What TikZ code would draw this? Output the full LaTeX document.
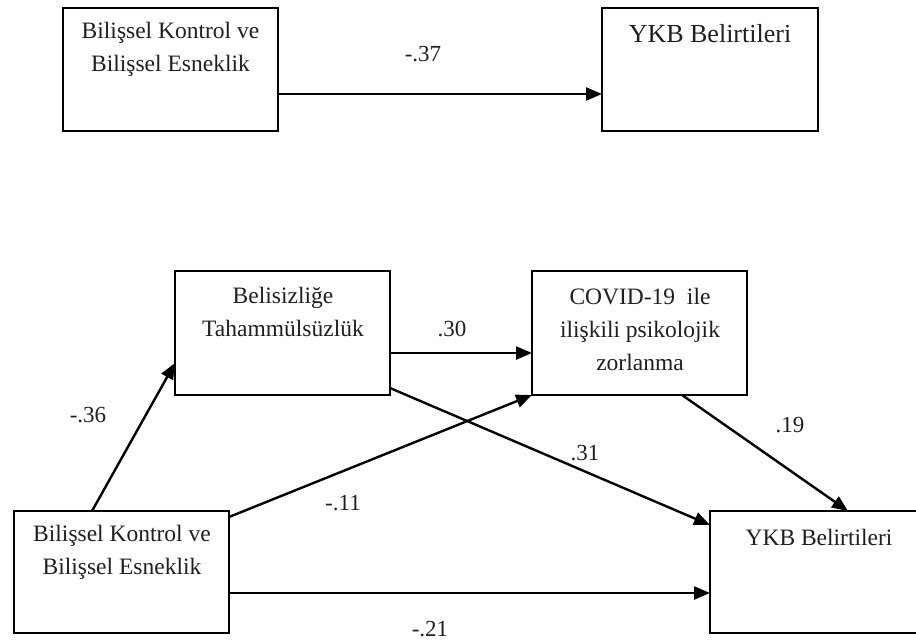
\documentclass[tikz,border=0pt]{standalone}
\usepackage{fontspec}
\setmainfont{Liberation Serif}
\usetikzlibrary{arrows.meta,calc}
\begin{document}
\begin{tikzpicture}[x=1pt,y=-1pt,
  box/.style={draw=black,line width=2.4pt,minimum width=215pt,minimum height=123pt,inner sep=0pt,outer sep=0pt},
  txt/.style={inner sep=0pt,align=center,text=black!88,font=\fontsize{23.5}{33}\selectfont},
  lbl/.style={inner sep=0pt,text=black!88,font=\fontsize{23}{26}\selectfont},
  arr/.style={line width=2.4pt,-{Triangle[length=16pt,width=13pt]}},
  ln/.style={line width=2.4pt}]
\useasboundingbox (0,0) rectangle (916,641);
\clip (0,0) rectangle (916,641);
% top model
\node[box] (tl) at (170.5,69.5) {};
\node[box,minimum width=216pt] (tr) at (710,69.5) {};
\node[txt] (tlt) at (170.5,49.5) {Bilişsel Kontrol ve\\Bilişsel Esneklik};
\node[txt,font=\fontsize{26}{33}\selectfont] (trt) at (710,34) {YKB Belirtileri};
\draw[arr] ([yshift=-24.5pt]tl.east) -- ([yshift=-24.5pt]tr.west);
\node[lbl] (l37) at (423,54) {-.37};
% bottom model
\node[box,minimum height=124pt] (mu) at (282.5,333) {};
\node[box,minimum height=124pt] (cv) at (639.5,333) {};
\node[box,minimum height=122pt] (bl) at (121.5,572) {};
\node[box,minimum width=218pt,minimum height=122pt] (br) at (819,572) {};
\node[txt] (mut) at (283,312) {Belisizliğe\\Tahammülsüzlük};
\node[txt] (cvt) at (640,329) {COVID-19\ \ ile\\ilişkili psikolojik\\zorlanma};
\node[txt] (blt) at (122,552.5) {Bilişsel Kontrol ve\\Bilişsel Esneklik};
\node[txt,font=\fontsize{23.5}{33}\selectfont] (brt) at (819,537) {YKB Belirtileri};
% paths
\draw[arr] ([xshift=-29.5pt]bl.north) -- ([yshift=-30pt]mu.west);
\draw[arr] ([yshift=-20pt]mu.east) -- ([yshift=-20pt]cv.west);
\draw[arr] ([yshift=-6pt]bl.north east) -- (cv.south west);
\draw[arr] ([yshift=7pt]mu.south east) -- ([yshift=-14pt]br.north west);
\draw[arr] ([xshift=42.5pt]cv.south) -- ([xshift=29pt]br.north);
\draw[arr] ([yshift=-21pt]bl.east) -- ([yshift=-21pt]br.west);
% labels
\node[lbl] (l36) at (88,415) {-.36};
\node[lbl] (l30) at (452,329) {.30};
\node[lbl] (l11) at (343,503) {-.11};
\node[lbl] (l31) at (585,453) {.31};
\node[lbl] (l19) at (790,425) {.19};
\node[lbl] (l21) at (430,629) {-.21};
\end{tikzpicture}
\end{document}
